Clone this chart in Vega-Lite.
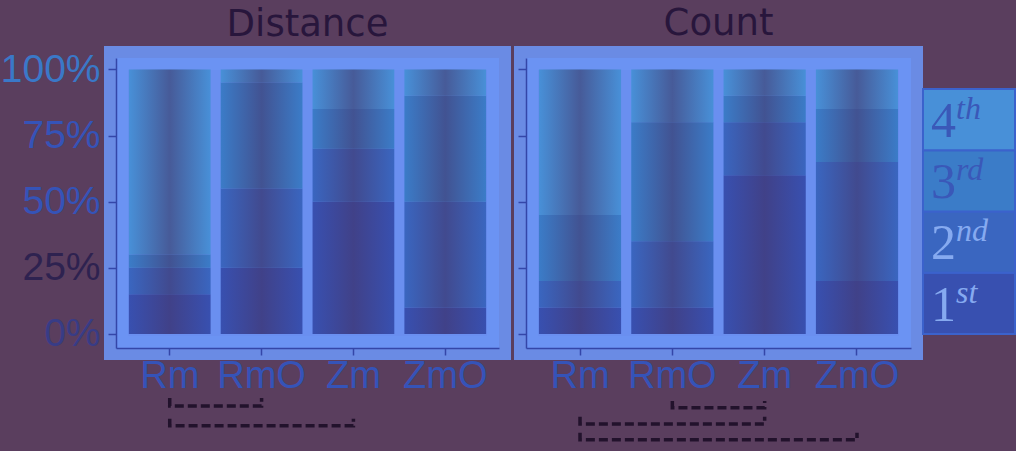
{
  "$schema": "https://vega.github.io/schema/vega-lite/v6.json",
  "background": "#5a3e5e",
  "padding": {"left": -12, "top": -7, "right": 0, "bottom": 0},
  "autosize": {"type": "pad"},
  "config": {
    "view": {"fill": "#6a8ff0", "stroke": "#6b93f3", "strokeWidth": 24, "strokeOpacity": 0.9},
    "axis": {
      "title": null,
      "grid": false,
      "labelFont": "Liberation Sans",
      "labelColor": "#3553b8",
      "domainColor": "#3446a8",
      "tickColor": "#3446a8",
      "domainWidth": 1.5,
      "tickWidth": 1.5
    },
    "title": {"font": "DejaVu Sans", "fontSize": 37, "fontWeight": "normal", "color": "#28163c", "baseline": "alphabetic", "anchor": "middle"}
  },
  "datasets": {
    "bars": [
      {"panel": "Distance", "method": "Rm", "rank": "1st", "r": 1, "v": 0.15},
      {"panel": "Distance", "method": "Rm", "rank": "2nd", "r": 2, "v": 0.10},
      {"panel": "Distance", "method": "Rm", "rank": "3rd", "r": 3, "v": 0.05},
      {"panel": "Distance", "method": "Rm", "rank": "4th", "r": 4, "v": 0.70},
      {"panel": "Distance", "method": "RmO", "rank": "1st", "r": 1, "v": 0.25},
      {"panel": "Distance", "method": "RmO", "rank": "2nd", "r": 2, "v": 0.30},
      {"panel": "Distance", "method": "RmO", "rank": "3rd", "r": 3, "v": 0.40},
      {"panel": "Distance", "method": "RmO", "rank": "4th", "r": 4, "v": 0.05},
      {"panel": "Distance", "method": "Zm", "rank": "1st", "r": 1, "v": 0.50},
      {"panel": "Distance", "method": "Zm", "rank": "2nd", "r": 2, "v": 0.20},
      {"panel": "Distance", "method": "Zm", "rank": "3rd", "r": 3, "v": 0.15},
      {"panel": "Distance", "method": "Zm", "rank": "4th", "r": 4, "v": 0.15},
      {"panel": "Distance", "method": "ZmO", "rank": "1st", "r": 1, "v": 0.10},
      {"panel": "Distance", "method": "ZmO", "rank": "2nd", "r": 2, "v": 0.40},
      {"panel": "Distance", "method": "ZmO", "rank": "3rd", "r": 3, "v": 0.40},
      {"panel": "Distance", "method": "ZmO", "rank": "4th", "r": 4, "v": 0.10},
      {"panel": "Count", "method": "Rm", "rank": "1st", "r": 1, "v": 0.10},
      {"panel": "Count", "method": "Rm", "rank": "2nd", "r": 2, "v": 0.10},
      {"panel": "Count", "method": "Rm", "rank": "3rd", "r": 3, "v": 0.25},
      {"panel": "Count", "method": "Rm", "rank": "4th", "r": 4, "v": 0.55},
      {"panel": "Count", "method": "RmO", "rank": "1st", "r": 1, "v": 0.10},
      {"panel": "Count", "method": "RmO", "rank": "2nd", "r": 2, "v": 0.25},
      {"panel": "Count", "method": "RmO", "rank": "3rd", "r": 3, "v": 0.45},
      {"panel": "Count", "method": "RmO", "rank": "4th", "r": 4, "v": 0.20},
      {"panel": "Count", "method": "Zm", "rank": "1st", "r": 1, "v": 0.60},
      {"panel": "Count", "method": "Zm", "rank": "2nd", "r": 2, "v": 0.20},
      {"panel": "Count", "method": "Zm", "rank": "3rd", "r": 3, "v": 0.10},
      {"panel": "Count", "method": "Zm", "rank": "4th", "r": 4, "v": 0.10},
      {"panel": "Count", "method": "ZmO", "rank": "1st", "r": 1, "v": 0.20},
      {"panel": "Count", "method": "ZmO", "rank": "2nd", "r": 2, "v": 0.45},
      {"panel": "Count", "method": "ZmO", "rank": "3rd", "r": 3, "v": 0.20},
      {"panel": "Count", "method": "ZmO", "rank": "4th", "r": 4, "v": 0.15}
    ],
    "brackets": [
      {"panel": "Distance", "id": "d1", "seq": 1, "method": "Rm", "b": -0.242},
      {"panel": "Distance", "id": "d1", "seq": 2, "method": "Rm", "b": -0.272},
      {"panel": "Distance", "id": "d1", "seq": 3, "method": "RmO", "b": -0.272},
      {"panel": "Distance", "id": "d1", "seq": 4, "method": "RmO", "b": -0.242},
      {"panel": "Distance", "id": "d2", "seq": 1, "method": "Rm", "b": -0.32},
      {"panel": "Distance", "id": "d2", "seq": 2, "method": "Rm", "b": -0.347},
      {"panel": "Distance", "id": "d2", "seq": 3, "method": "Zm", "b": -0.347},
      {"panel": "Distance", "id": "d2", "seq": 4, "method": "Zm", "b": -0.32},
      {"panel": "Count", "id": "c1", "seq": 1, "method": "RmO", "b": -0.253},
      {"panel": "Count", "id": "c1", "seq": 2, "method": "RmO", "b": -0.279},
      {"panel": "Count", "id": "c1", "seq": 3, "method": "Zm", "b": -0.279},
      {"panel": "Count", "id": "c1", "seq": 4, "method": "Zm", "b": -0.253},
      {"panel": "Count", "id": "c2", "seq": 1, "method": "Rm", "b": -0.313},
      {"panel": "Count", "id": "c2", "seq": 2, "method": "Rm", "b": -0.34},
      {"panel": "Count", "id": "c2", "seq": 3, "method": "Zm", "b": -0.34},
      {"panel": "Count", "id": "c2", "seq": 4, "method": "Zm", "b": -0.313},
      {"panel": "Count", "id": "c3", "seq": 1, "method": "Rm", "b": -0.373},
      {"panel": "Count", "id": "c3", "seq": 2, "method": "Rm", "b": -0.40},
      {"panel": "Count", "id": "c3", "seq": 3, "method": "ZmO", "b": -0.40},
      {"panel": "Count", "id": "c3", "seq": 4, "method": "ZmO", "b": -0.373}
    ],
    "legend": [
      {"key": "k", "rank": "1st", "r": 1, "n": 1, "num": "1", "sup": "st"},
      {"key": "k", "rank": "2nd", "r": 2, "n": 1, "num": "2", "sup": "nd"},
      {"key": "k", "rank": "3rd", "r": 3, "n": 1, "num": "3", "sup": "rd"},
      {"key": "k", "rank": "4th", "r": 4, "n": 1, "num": "4", "sup": "th"}
    ]
  },
  "spacing": -11,
  "hconcat": [
    {
      "bounds": "flush",
      "spacing": 27,
      "hconcat": [
        {
          "width": 383,
          "height": 290,
          "title": {"text": "Distance", "offset": 6},
          "layer": [
            {
              "data": {"name": "bars"},
              "transform": [{"filter": "datum.panel === 'Distance'"}],
              "mark": {"type": "bar"},
              "encoding": {
                "x": {"field": "method", "type": "nominal", "sort": ["Rm", "RmO", "Zm", "ZmO"], "scale": {"paddingInner": 0.11, "paddingOuter": 0.14}, "axis": {"labelAngle": 0, "labelFontSize": 38, "tickSize": 7, "labelPadding": 2}},
                "y": {"field": "v", "type": "quantitative", "stack": "zero", "scale": {"domain": [-0.053, 1.043], "nice": false, "zero": false}, "axis": {"values": [0, 0.25, 0.5, 0.75, 1], "format": ".0%", "labelFontSize": 39, "tickSize": 8, "labelPadding": 8, "labelColor": {"condition": [{"test": "datum.value === 0.25", "value": "#2e2250"}, {"test": "datum.value === 0", "value": "#383c86"}, {"test": "datum.value === 1", "value": "#3a78c8"}], "value": "#3553b8"}}},
                "color": {"field": "rank", "type": "nominal", "scale": {"domain": ["1st", "2nd", "3rd", "4th"], "range": ["#3850b0", "#3a66c0", "#3b7cc8", "#4890d8"]}, "legend": null},
                "order": {"field": "r", "type": "quantitative"}
              }
            },
            {
              "data": {"name": "bars"},
              "transform": [{"filter": "datum.panel === 'Distance'"}],
              "mark": {"type": "bar", "fill": {"gradient": "linear", "x1": 0, "x2": 1, "y1": 0, "y2": 0, "stops": [{"offset": 0, "color": "rgba(70,55,110,0)"}, {"offset": 0.5, "color": "rgba(70,55,110,0.6)"}, {"offset": 1, "color": "rgba(70,55,110,0)"}]}},
              "encoding": {
                "x": {"field": "method", "type": "nominal", "sort": ["Rm", "RmO", "Zm", "ZmO"]},
                "y": {"field": "v", "type": "quantitative", "stack": "zero"},
                "order": {"field": "r", "type": "quantitative"}
              }
            },
            {
              "data": {"name": "brackets"},
              "transform": [{"filter": "datum.panel === 'Distance'"}],
              "mark": {"type": "line", "clip": false, "color": "#22122c", "strokeWidth": 3.5, "strokeDash": [9, 4]},
              "encoding": {
                "x": {"field": "method", "type": "nominal", "sort": ["Rm", "RmO", "Zm", "ZmO"]},
                "y": {"field": "b", "type": "quantitative"},
                "detail": {"field": "id"},
                "order": {"field": "seq", "type": "quantitative"}
              }
            }
          ]
        },
        {
          "width": 385,
          "height": 290,
          "title": {"text": "Count", "offset": 15},
          "layer": [
            {
              "data": {"name": "bars"},
              "transform": [{"filter": "datum.panel === 'Count'"}],
              "mark": {"type": "bar"},
              "encoding": {
                "x": {"field": "method", "type": "nominal", "sort": ["Rm", "RmO", "Zm", "ZmO"], "scale": {"paddingInner": 0.11, "paddingOuter": 0.14}, "axis": {"labelAngle": 0, "labelFontSize": 38, "tickSize": 7, "labelPadding": 2}},
                "y": {"field": "v", "type": "quantitative", "stack": "zero", "scale": {"domain": [-0.053, 1.043], "nice": false, "zero": false}, "axis": {"values": [0, 0.25, 0.5, 0.75, 1], "labels": false, "tickSize": 8}},
                "color": {"field": "rank", "type": "nominal", "scale": {"domain": ["1st", "2nd", "3rd", "4th"], "range": ["#3850b0", "#3a66c0", "#3b7cc8", "#4890d8"]}, "legend": null},
                "order": {"field": "r", "type": "quantitative"}
              }
            },
            {
              "data": {"name": "bars"},
              "transform": [{"filter": "datum.panel === 'Count'"}],
              "mark": {"type": "bar", "fill": {"gradient": "linear", "x1": 0, "x2": 1, "y1": 0, "y2": 0, "stops": [{"offset": 0, "color": "rgba(70,55,110,0)"}, {"offset": 0.5, "color": "rgba(70,55,110,0.6)"}, {"offset": 1, "color": "rgba(70,55,110,0)"}]}},
              "encoding": {
                "x": {"field": "method", "type": "nominal", "sort": ["Rm", "RmO", "Zm", "ZmO"]},
                "y": {"field": "v", "type": "quantitative", "stack": "zero"},
                "order": {"field": "r", "type": "quantitative"}
              }
            },
            {
              "data": {"name": "brackets"},
              "transform": [{"filter": "datum.panel === 'Count'"}],
              "mark": {"type": "line", "clip": false, "color": "#22122c", "strokeWidth": 3.5, "strokeDash": [9, 4]},
              "encoding": {
                "x": {"field": "method", "type": "nominal", "sort": ["Rm", "RmO", "Zm", "ZmO"]},
                "y": {"field": "b", "type": "quantitative"},
                "detail": {"field": "id"},
                "order": {"field": "seq", "type": "quantitative"}
              }
            }
          ]
        }
      ]
    },
    {
      "width": 92,
      "height": 290,
      "view": {"stroke": null, "fill": null},
      "data": {"name": "legend"},
      "encoding": {
        "x": {"field": "key", "type": "nominal", "scale": {"paddingInner": 0, "paddingOuter": 0}, "axis": null},
        "y": {"field": "n", "type": "quantitative", "stack": "zero", "scale": {"domain": [-0.229, 4.506], "nice": false, "zero": false}, "axis": null},
        "order": {"field": "r", "type": "quantitative"}
      },
      "layer": [
        {
          "mark": {"type": "bar", "stroke": "#3b62cc", "strokeWidth": 2},
          "encoding": {
            "color": {"field": "rank", "type": "nominal", "scale": {"domain": ["1st", "2nd", "3rd", "4th"], "range": ["#3a60bc", "#3a72c8", "#3a8cd0", "#45a0d8"]}, "legend": null}
          }
        },
        {
          "mark": {"type": "text", "align": "left", "baseline": "alphabetic", "dx": -38, "dy": 48, "font": "Liberation Serif", "fontSize": 50},
          "encoding": {
            "text": {"field": "num"},
            "color": {"condition": {"test": "datum.r <= 2", "value": "#86aaf0"}, "value": "#3a58b8"}
          }
        },
        {
          "mark": {"type": "text", "align": "left", "baseline": "alphabetic", "dx": -13, "dy": 30, "font": "Liberation Serif", "fontStyle": "italic", "fontSize": 32},
          "encoding": {
            "text": {"field": "sup"},
            "color": {"condition": {"test": "datum.r <= 2", "value": "#86aaf0"}, "value": "#3a58b8"}
          }
        }
      ]
    }
  ]
}
